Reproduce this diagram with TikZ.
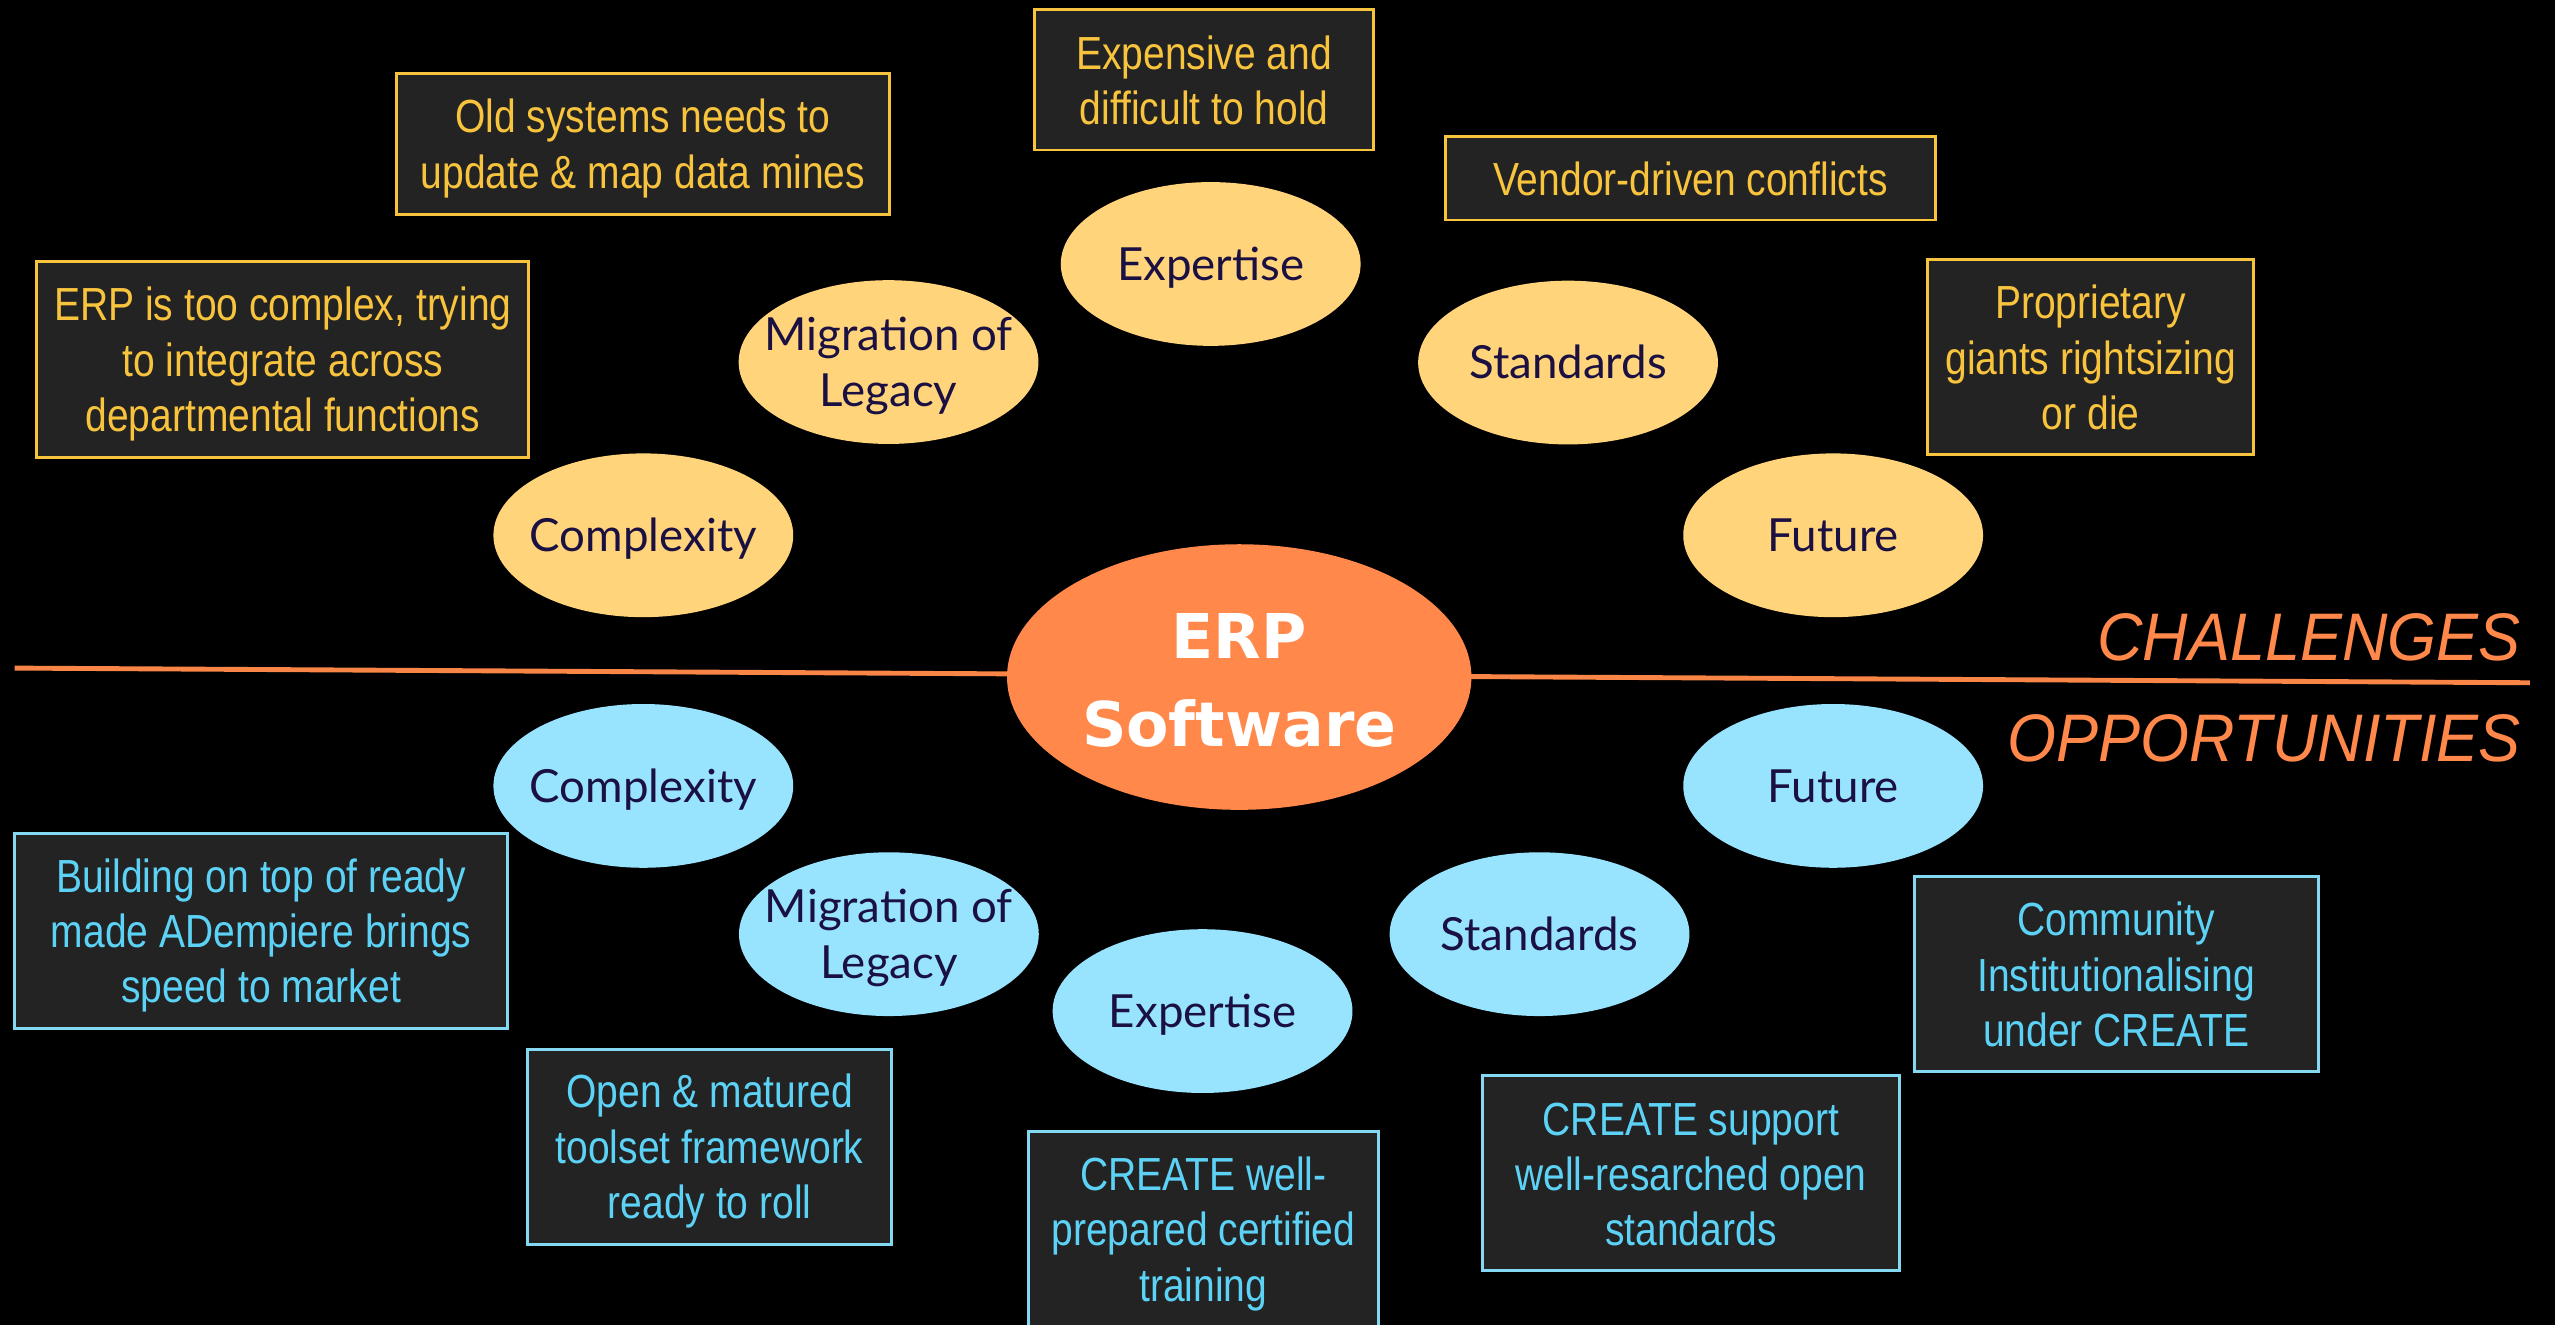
\documentclass[tikz,border=0pt]{standalone}
\usepackage{fontspec}
\usetikzlibrary{shapes.geometric}
\newfontfamily\boxfont{Liberation Sans}[FakeStretch=0.84]
\newfontfamily\circfont{Lato}
\newfontfamily\erpfont{DejaVu Sans}
\newfontfamily\labfont{Liberation Sans}[FakeStretch=0.935]
\newcommand\boxstrut{\rule[-4.5pt]{0pt}{30.5pt}}
\newcommand\ellstrut{\rule[-6pt]{0pt}{32pt}}
\newcommand\erpstrut{\rule[-4pt]{0pt}{39pt}}
\definecolor{ygold}{HTML}{F8C33D}
\definecolor{boxgray}{HTML}{232323}
\definecolor{ycirc}{HTML}{FFD47B}
\definecolor{bcirc}{HTML}{98E4FF}
\definecolor{bline}{HTML}{85D8F2}
\definecolor{btext}{HTML}{5CD3F6}
\definecolor{erporange}{HTML}{FF884A}
\definecolor{lineorange}{HTML}{F98546}
\definecolor{navy}{HTML}{1B1042}
\begin{document}
\begin{tikzpicture}[x=1pt,y=-1pt,
  box/.style={rectangle, draw, line width=1.8pt, fill=boxgray, inner sep=0pt, align=center,
    font=\boxfont\fontsize{28.5}{34}\selectfont},
  ybox/.style={box, draw=ygold, text=ygold},
  bbox/.style={box, draw=bline, text=btext},
  topic/.style={ellipse, inner xsep=-25pt, inner ysep=-15pt, minimum width=184pt, minimum height=100.5pt,
    text=navy, align=center, font=\circfont\fontsize{28}{34.3}\selectfont},
  ytopic/.style={topic, fill=ycirc},
  btopic/.style={topic, fill=bcirc},
  erp/.style={ellipse, inner xsep=-30pt, inner ysep=-20pt, minimum width=285pt, minimum height=163pt, fill=erporange,
    text=white, align=center, font=\erpfont\bfseries\fontsize{37.9}{54}\selectfont},
  sidelabel/.style={anchor=base east, inner sep=0pt, text=erporange,
    font=\labfont\itshape\fontsize{41.3}{48}\selectfont},
  divider/.style={draw=lineorange, line width=3pt}
]
\fill[black] (0,0) rectangle (1568,813);
\useasboundingbox (0,0) rectangle (1568,813);

% divider line behind the central node
\coordinate (L1) at (9,410);
\coordinate (L2) at (1552.5,419);
\draw[divider] (L1) -- (L2);

% central node
\node[erp] (erp) at (760.5,415.5) {\erpstrut ERP\\\erpstrut Software};

% side labels
\node[sidelabel] (chal) at (1547,405.5) {CHALLENGES};
\node[sidelabel] (opp) at (1547,467.5) {OPPORTUNITIES};

% challenge topics
\node[ytopic] (cexp) at (743,162) {\ellstrut Expertise};
\node[ytopic] (cmig) at (545.3,222.2) {\ellstrut Migration of\\\ellstrut Legacy};
\node[ytopic] (cstd) at (962.3,222.5) {\ellstrut Standards};
\node[ytopic] (ccpx) at (394.8,328.5) {\ellstrut Complexity};
\node[ytopic] (cfut) at (1125,328.5) {\ellstrut Future};

% opportunity topics
\node[btopic] (ocpx) at (394.8,482.3) {\ellstrut Complexity};
\node[btopic] (ofut) at (1125,482.3) {\ellstrut Future};
\node[btopic] (omig) at (545.5,573.3) {\ellstrut Migration of\\\ellstrut Legacy};
\node[btopic] (ostd) at (944.8,573.3) {\ellstrut Standards};
\node[btopic] (oexp) at (738,620.5) {\ellstrut Expertise};

% challenge boxes
\node[ybox, minimum width=302pt, minimum height=86.3pt] (bold) at (394.6,88.4)
  {\boxstrut Old systems needs to\\\boxstrut update \& map data mines};
\node[ybox, minimum width=208pt, minimum height=86.3pt] (bexp) at (739,48.9)
  {\boxstrut Expensive and\\\boxstrut difficult to hold};
\node[ybox, minimum width=301pt, minimum height=51pt] (bvend) at (1037.4,109.5)
  {\boxstrut Vendor-driven conflicts};
\node[ybox, minimum width=302pt, minimum height=120.3pt] (bcpx) at (173.6,220.9)
  {\boxstrut ERP is too complex, trying\\\boxstrut to integrate across\\\boxstrut departmental functions};
\node[ybox, minimum width=200pt, minimum height=120pt] (bprop) at (1283,219)
  {\boxstrut Proprietary\\\boxstrut giants rightsizing\\\boxstrut or die};

% opportunity boxes
\node[bbox, minimum width=302.6pt, minimum height=120pt] (bbuild) at (160.3,571.4)
  {\boxstrut Building on top of ready\\\boxstrut made ADempiere brings\\\boxstrut speed to market};
\node[bbox, minimum width=223pt, minimum height=119.5pt] (bopen) at (435.5,703.8)
  {\boxstrut Open \& matured\\\boxstrut toolset framework\\\boxstrut ready to roll};
\node[bbox, minimum width=215pt, minimum height=120pt] (btrain) at (738.5,754.5)
  {\boxstrut CREATE well-\\\boxstrut prepared certified\\\boxstrut training};
\node[bbox, minimum width=256pt, minimum height=119.6pt] (bsupp) at (1037.7,719.8)
  {\boxstrut CREATE support\\\boxstrut well-resarched open\\\boxstrut standards};
\node[bbox, minimum width=248pt, minimum height=119.6pt] (bcomm) at (1298.7,597.6)
  {\boxstrut Community\\\boxstrut Institutionalising\\\boxstrut under CREATE};
\end{tikzpicture}
\end{document}
